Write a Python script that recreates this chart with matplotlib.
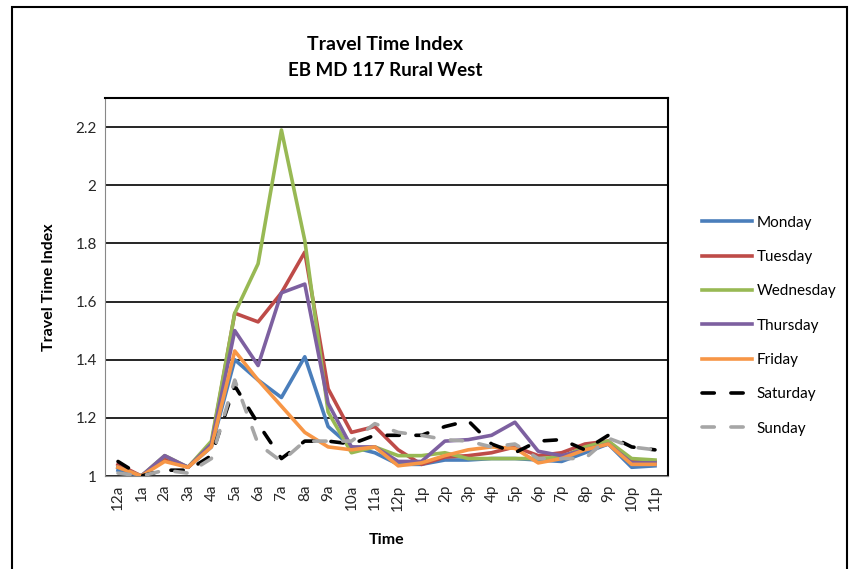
import numpy as np
import matplotlib
matplotlib.use('Agg')
from matplotlib import pyplot as plt
from matplotlib.patches import Rectangle

# 時間帯
hours = ['12a', '1a', '2a', '3a', '4a', '5a', '6a', '7a', '8a', '9a', '10a', '11a',
         '12p', '1p', '2p', '3p', '4p', '5p', '6p', '7p', '8p', '9p', '10p', '11p']

monday = [1.02, 1.00, 1.06, 1.03, 1.10, 1.40, 1.33, 1.27, 1.41, 1.17, 1.10, 1.08,
          1.04, 1.04, 1.055, 1.055, 1.06, 1.06, 1.055, 1.05, 1.08, 1.11, 1.03, 1.035]
tuesday = [1.04, 1.00, 1.06, 1.03, 1.11, 1.56, 1.53, 1.63, 1.77, 1.30, 1.15, 1.17,
           1.09, 1.04, 1.065, 1.07, 1.08, 1.10, 1.07, 1.08, 1.11, 1.12, 1.05, 1.05]
wednesday = [1.03, 1.00, 1.07, 1.03, 1.12, 1.56, 1.73, 2.19, 1.81, 1.22, 1.08, 1.10,
             1.07, 1.07, 1.08, 1.06, 1.06, 1.06, 1.06, 1.065, 1.10, 1.12, 1.06, 1.055]
thursday = [1.03, 1.00, 1.07, 1.03, 1.11, 1.50, 1.38, 1.63, 1.66, 1.25, 1.10, 1.10,
            1.05, 1.05, 1.12, 1.125, 1.14, 1.185, 1.085, 1.07, 1.09, 1.11, 1.045, 1.045]
friday = [1.03, 1.00, 1.05, 1.03, 1.10, 1.43, 1.33, 1.24, 1.15, 1.10, 1.09, 1.10,
          1.035, 1.045, 1.07, 1.09, 1.10, 1.095, 1.045, 1.06, 1.09, 1.11, 1.04, 1.04]
saturday = [1.05, 1.00, 1.02, 1.02, 1.07, 1.31, 1.18, 1.06, 1.12, 1.12, 1.11, 1.14,
            1.14, 1.14, 1.17, 1.19, 1.11, 1.08, 1.12, 1.125, 1.09, 1.14, 1.10, 1.09]
sunday = [1.01, 1.00, 1.02, 1.01, 1.06, 1.33, 1.11, 1.05, 1.12, 1.12, 1.12, 1.18,
          1.15, 1.14, 1.125, 1.12, 1.10, 1.11, 1.06, 1.06, 1.06, 1.13, 1.10, 1.09]

days = ['Monday', 'Tuesday', 'Wednesday', 'Thursday', 'Friday', 'Saturday', 'Sunday']
series = [monday, tuesday, wednesday, thursday, friday, saturday, sunday]
colors = ['#4A7EBB', '#BE4B48', '#98B954', '#7D60A0', '#F79646', '#000000', '#A6A6A6']

plt.rcParams['font.family'] = ['Lato', 'DejaVu Sans']

fig = plt.figure(figsize=(8.59, 5.69), dpi=100)
# 外枠
fig.patches.append(Rectangle((12 / 859, -0.05), (847 - 12) / 859, (569 - 7) / 569 + 0.05,
                             transform=fig.transFigure, fill=False,
                             edgecolor='black', linewidth=1.5))

ax = fig.add_axes([105 / 859, 1 - 476 / 569, 563 / 859, 378 / 569])
x = np.arange(len(hours))

for name, vals, c in zip(days, series, colors):
    if name in ('Saturday', 'Sunday'):
        ax.plot(x, vals, color=c, lw=2.6, label=name, dashes=(3.4, 4.6),
                dash_capstyle='round', solid_joinstyle='round')
    else:
        ax.plot(x, vals, color=c, lw=2.6, label=name, solid_joinstyle='round')

ax.set_xlim(-0.557, 23.557)
ax.set_ylim(1, 2.3)
ax.set_yticks([1, 1.2, 1.4, 1.6, 1.8, 2, 2.2])
ax.set_yticklabels(['1', '1.2', '1.4', '1.6', '1.8', '2', '2.2'], fontsize=11)
ax.set_xticks(x)
ax.set_xticklabels(hours, rotation=90, fontsize=11)
ax.tick_params(axis='both', length=0, pad=6, labelcolor='#262626')
ax.yaxis.grid(True, color='black', lw=1.2)
ax.set_axisbelow(True)
ax.spines['left'].set_color('#888888')
ax.spines['bottom'].set_color('#888888')
ax.spines['top'].set_linewidth(1.5)
ax.spines['right'].set_linewidth(1.5)

ax.set_xlabel('Time', fontsize=11.5, fontweight='bold', labelpad=16)
ax.set_ylabel('Travel Time Index', fontsize=11.5, fontweight='bold', labelpad=14)

fig.text(385 / 859, 1 - 44 / 569, 'Travel Time Index', ha='center', va='center',
         fontsize=14, fontweight='bold')
fig.text(385 / 859, 1 - 71 / 569, 'EB MD 117 Rural West', ha='center', va='center',
         fontsize=13.5, fontweight='bold')

ax.legend(loc='upper left', bbox_to_anchor=(688 / 859, 1 - 202 / 569),
          bbox_transform=fig.transFigure, frameon=False, fontsize=11,
          handlelength=3.3, handletextpad=0.3, labelspacing=1.33)

fig.savefig('out.png', dpi=100)
